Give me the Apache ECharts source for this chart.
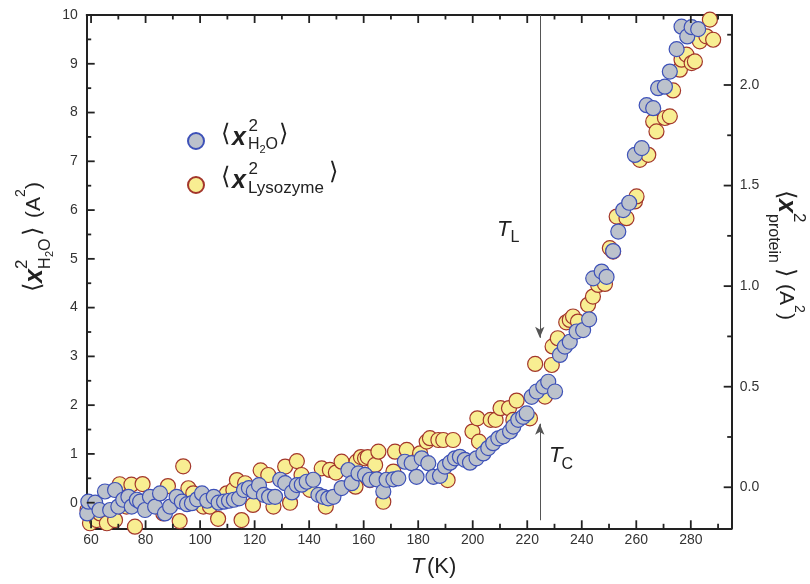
<!DOCTYPE html>
<html><head><meta charset="utf-8">
<script src="https://cdn.jsdelivr.net/npm/echarts@6/dist/echarts.min.js"></script>
<style>html,body{margin:0;padding:0;background:#fff}#c{width:810px;height:584px}</style>
</head><body><div id="c"></div>
<script>
// ---- data ----
const waterT = [58.6,59.0,61.5,63.1,65.1,67.0,68.8,70.0,71.8,73.7,74.9,76.8,78.0,79.8,81.6,83.5,85.3,87.1,89.0,91.4,93.3,95.2,97.0,98.9,100.7,102.6,105.0,106.8,108.8,110.6,112.4,114.3,116.1,117.9,119.7,121.6,123.4,125.3,127.5,129.4,131.2,133.7,135.5,137.3,139.1,141.5,143.4,145.2,147.0,148.9,151.9,154.4,155.6,158.1,160.5,162.3,164.8,167.2,168.4,170.9,172.7,175.1,177.6,179.4,181.3,183.7,185.6,188.0,189.8,191.7,193.5,195.3,197.1,199.0,201.4,203.9,205.7,207.5,209.4,211.2,213.7,214.9,216.7,218.5,219.8,221.6,223.5,225.9,227.7,230.2,232.0,233.8,235.6,238.1,240.5,242.7,244.2,247.3,249.1,251.5,253.4,255.2,257.4,259.5,262.0,263.8,266.2,268.0,270.5,272.3,274.8,276.6,278.7,280.3,282.7];
const waterMSD = [-0.22,0.02,0.0,-0.15,0.23,-0.15,0.26,-0.08,0.06,0.12,-0.08,0.06,0.02,-0.15,0.12,-0.08,0.19,-0.22,-0.08,0.12,0.02,-0.03,-0.01,0.07,0.19,0.04,0.12,0.0,0.02,0.04,0.06,0.09,0.26,0.30,0.23,0.36,0.16,0.12,0.12,0.47,0.40,0.21,0.36,0.37,0.43,0.47,0.16,0.12,0.09,0.12,0.30,0.67,0.40,0.60,0.57,0.47,0.48,0.23,0.47,0.48,0.50,0.84,0.81,0.53,0.91,0.81,0.53,0.55,0.74,0.82,0.91,0.94,0.88,0.82,0.91,1.01,1.12,1.22,1.32,1.36,1.46,1.56,1.70,1.76,1.83,2.17,2.28,2.38,2.48,2.28,3.03,3.20,3.30,3.51,3.54,3.76,4.60,4.74,4.63,5.16,5.56,6.00,6.15,7.13,7.27,8.15,8.09,8.50,8.53,8.84,9.30,9.76,9.56,9.75,9.71];
const lysoT = [58.7,59.6,62.1,63.3,65.8,68.8,70.5,73.0,74.8,76.1,78.9,86.5,88.2,92.5,93.8,95.7,97.5,101.2,103.6,106.6,109.8,112.2,113.5,115.2,116.5,119.4,122.2,125.0,126.9,131.2,133.0,135.5,137.2,140.3,144.6,146.1,147.6,149.8,151.9,157.0,157.4,159.0,160.5,161.5,162.3,164.2,165.4,167.2,170.9,171.5,175.8,180.7,183.1,184.3,187.4,189.2,190.8,192.8,199.9,201.7,202.3,206.6,208.4,210.2,213.3,214.9,216.1,221.0,222.9,226.5,229.0,229.3,231.2,234.3,235.6,236.8,238.6,242.3,244.1,246.0,248.5,250.3,251.5,252.8,256.4,259.5,260.1,261.3,264.4,266.2,267.4,270.5,272.3,273.5,276.0,276.6,278.4,280.3,281.5,283.3,285.7,287.0,288.2];
const lysoMSD = [-0.113,-0.179,-0.163,-0.13,-0.179,-0.163,0.015,-0.096,0.013,-0.196,0.016,-0.13,0.006,-0.168,0.104,-0.005,-0.03,-0.096,-0.096,-0.157,-0.03,-0.013,0.036,-0.163,0.02,-0.088,0.084,0.061,-0.096,0.103,-0.077,0.13,0.061,-0.013,0.094,-0.096,0.086,0.073,0.127,0.003,0.127,0.15,0.144,0.15,0.036,0.111,0.177,-0.072,0.078,0.177,0.186,0.169,0.227,0.244,0.235,0.235,0.036,0.235,0.277,0.343,0.227,0.335,0.335,0.393,0.393,0.335,0.431,0.343,0.613,0.451,0.608,0.70,0.741,0.82,0.832,0.849,0.824,0.907,0.948,1.006,1.011,1.189,1.172,1.346,1.338,1.421,1.446,1.628,1.653,1.819,1.769,1.836,1.844,1.973,2.076,2.126,2.151,2.109,2.117,2.217,2.242,2.325,2.225];
// tick labels / tick positions
const xMajor = [60,80,100,120,140,160,180,200,220,240,260,280];
const xMinor = [70,90,110,130,150,170,190,210,230,250,270,290];
const leftMajor = [0,1,2,3,4,5,6,7,8,9,10];
const leftMinor = [0.5,1.5,2.5,3.5,4.5,5.5,6.5,7.5,8.5,9.5];
const rightMajor = [0,0.5,1,1.5,2];
const rightMinor = [0.25,0.75,1.25,1.75,2.25];
const T_L = 224.6, T_C = 224.6;

// axis extents
const X_MIN = 58.4, X_MAX = 295, YL_MIN = -0.525, YL_MAX = 10, YR_MIN = -0.204, YR_MAX = 2.348;

// ---- layout ----
const G = { left: 86.7, top: 15, width: 645, height: 513.3 };
const FONT = '"Liberation Sans", Arial, "DejaVu Sans", sans-serif';
const AX = '#222';
const lblStyle = { fontSize: 14, color: '#333', fontFamily: FONT };

function axisDef(pos, min, max, labels, fmt, margin) {
  return { type: 'value', position: pos, min: min, max: max,
    axisLine: { show: true, onZero: false, lineStyle: { color: AX, width: 2 } },
    axisTick: { show: false },
    axisLabel: Object.assign({ show: !!labels, customValues: labels || [], margin: margin, formatter: fmt }, lblStyle),
    splitLine: { show: false } };
}

function t(x, y, text, size, o) {
  o = o || {};
  return {
    type: 'text', x: x, y: y, rotation: o.rot || 0, silent: true,
    style: {
      text: text, fill: '#222', align: 'left', verticalAlign: 'middle',
      font: (o.it ? 'italic ' : '') + (o.b ? 'bold ' : '') + size + 'px ' + FONT
    }
  };
}
const R90 = Math.PI / 2;

const graphics = [
  // legend texts
  t(221, 134, '⟨', 24), t(232, 138, 'x', 25, {it:1, b:1}), t(248.5, 126, '2', 17),
  t(248, 145, 'H', 16), t(259.5, 150, '2', 11), t(265.5, 145, 'O', 16), t(279, 134, '⟩', 24),
  t(221, 177, '⟨', 24), t(232, 181, 'x', 25, {it:1, b:1}), t(248.5, 169, '2', 17),
  t(248, 188, 'Lysozyme', 17), t(329, 172, '⟩', 24),
  // T_L and T_C
  t(497, 230, 'T', 22, {it:1}), t(510.5, 238, 'L', 16),
  t(549, 456, 'T', 22, {it:1}), t(561.5, 465, 'C', 16),
  // x-axis title
  t(411, 567, 'T', 22, {it:1}), t(427, 567, '(K)', 22),
  // left title (reads upward)
  t(33, 292, '⟨', 24, {rot: R90}), t(35, 283, 'x', 25, {it:1, b:1, rot: R90}), t(22, 269, '2', 17, {rot: R90}),
  t(46, 269, 'H', 16, {rot: R90}), t(50, 257, '2', 11, {rot: R90}), t(46, 251, 'O', 16, {rot: R90}),
  t(33, 236, '⟩', 24, {rot: R90}),
  t(34, 218, '(A', 21, {rot: R90}), t(21, 197, '2', 14, {rot: R90}), t(34, 189, ')', 21, {rot: R90}),
  // right title (reads downward)
  t(786, 190, '⟨', 24, {rot: -R90}), t(786, 199, 'x', 25, {it:1, b:1, rot: -R90}), t(799, 213, '2', 17, {rot: -R90}),
  t(773, 214, 'protein', 16, {rot: -R90}), t(786, 268, '⟩', 24, {rot: -R90}),
  t(786, 284, '(A', 21, {rot: -R90}), t(799, 305, '2', 14, {rot: -R90}), t(786, 313, ')', 21, {rot: -R90})
];

const chart = echarts.init(document.getElementById('c'), null, { renderer: 'canvas' });
chart.setOption({
  animation: false,
  backgroundColor: '#fff',
  grid: { left: G.left, top: G.top, width: G.width, height: G.height, containLabel: false, outerBoundsMode: 'none' },
  legend: {
    show: true, orient: 'vertical', left: 182, top: 127, itemWidth: 16, itemHeight: 16, itemGap: 26,
    formatter: function () { return ''; }, selectedMode: false,
    data: ['H2O', 'Lysozyme']
  },
  xAxis: [
    axisDef('bottom', X_MIN, X_MAX, xMajor, v => String(v), 5),
    axisDef('top', X_MIN, X_MAX, null)
  ],
  yAxis: [
    axisDef('left', YL_MIN, YL_MAX, leftMajor, v => String(Math.round(v)), 9),
    axisDef('right', YR_MIN, YR_MAX, rightMajor, v => v.toFixed(1), 8)
  ],
  graphic: graphics,
  series: [
    {
      name: 'Lysozyme', type: 'scatter', xAxisIndex: 0, yAxisIndex: 1, z: 2,
      symbol: 'circle', symbolSize: 15,
      itemStyle: { color: '#f8ee92', borderColor: '#a3362b', borderWidth: 1.2, opacity: 1 },
      data: lysoT.map(function (x, i) { return [x, lysoMSD[i]]; })
    },
    {
      name: 'H2O', type: 'scatter', xAxisIndex: 0, yAxisIndex: 0, z: 3,
      symbol: 'circle', symbolSize: 15,
      itemStyle: { color: '#bcc2cc', borderColor: '#3d51b8', borderWidth: 1.2, opacity: 1 },
      data: waterT.map(function (x, i) { return [x, waterMSD[i]]; }),
      markLine: {
        silent: true, symbol: ['none', 'arrow'], symbolSize: [7, 11], z: 5,
        lineStyle: { color: '#555', width: 1, type: 'solid' }, label: { show: false },
        emphasis: { disabled: true },
        data: [
          [{ coord: [T_L, 10] }, { coord: [T_L, 3.38] }],
          [{ coord: [T_C, -0.36] }, { coord: [T_C, 1.62] }]
        ]
      }
    }
  ]
});

// ---- tick marks, positioned through the chart's own axis scales ----
const gTop = G.top, gBottom = G.top + G.height, gLeft = G.left, gRight = G.left + G.width;
const tickStyle = { stroke: AX, lineWidth: 1.8 };
function ln(x1, y1, x2, y2) { return { type: 'line', silent: true, z: 10, shape: { x1: x1, y1: y1, x2: x2, y2: y2 }, style: tickStyle }; }
const tickEls = [];
function xTicks(vals, len) {
  vals.forEach(v => { const x = chart.convertToPixel({ xAxisIndex: 0 }, v); tickEls.push(ln(x, gBottom, x, gBottom - len), ln(x, gTop, x, gTop + len)); });
}
function yTicks(axisIndex, vals, len, side) {
  vals.forEach(v => {
    const y = chart.convertToPixel({ yAxisIndex: axisIndex }, v);
    if (side === 'left') tickEls.push(ln(gLeft, y, gLeft + len, y)); else tickEls.push(ln(gRight, y, gRight - len, y));
  });
}
xTicks(xMajor, 8); xTicks(xMinor, 4.5);
yTicks(0, leftMajor, 8, 'left'); yTicks(0, leftMinor, 4.5, 'left');
yTicks(1, rightMajor, 8, 'right'); yTicks(1, rightMinor, 4.5, 'right');
chart.setOption({ graphic: graphics.concat(tickEls) });
</script>
</body></html>
